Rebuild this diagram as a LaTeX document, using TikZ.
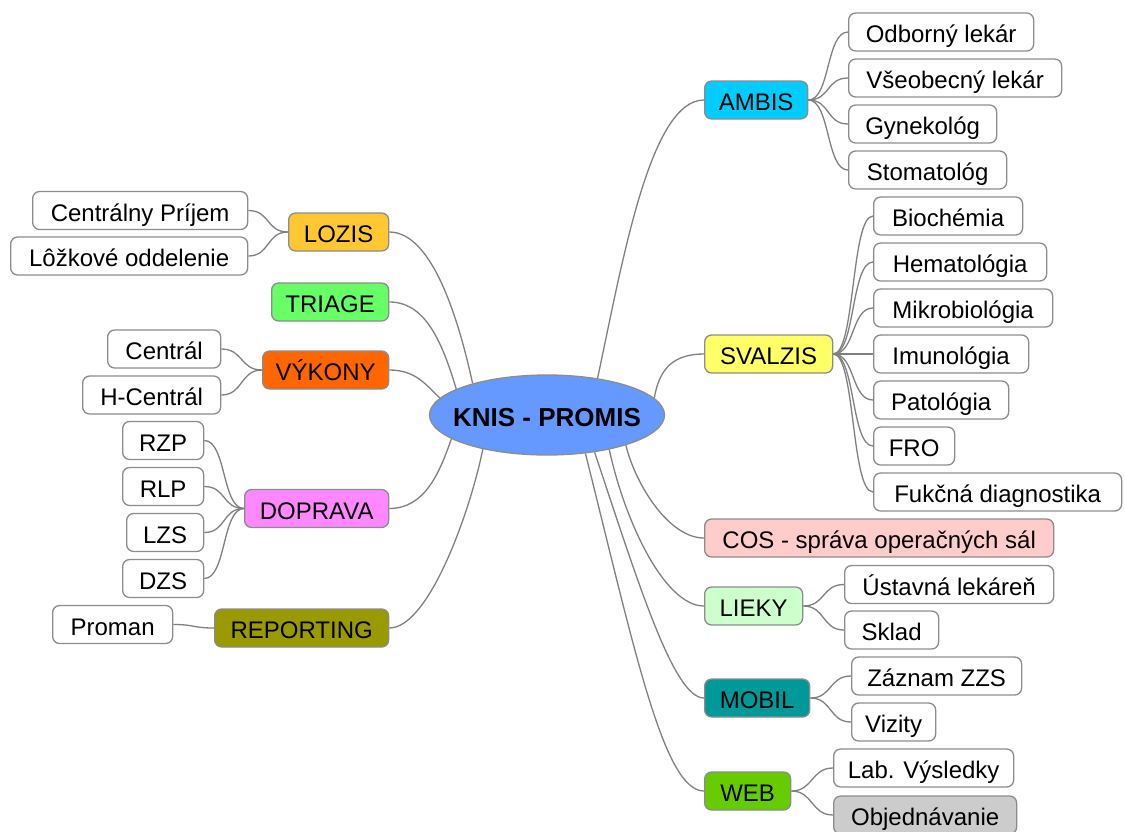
\documentclass[tikz,border=0pt]{standalone}
\usepackage{fontspec}
\setmainfont{Liberation Sans}
\usetikzlibrary{shapes.geometric}
\definecolor{bordc}{HTML}{8C8C8C}
\definecolor{linec}{HTML}{808080}
\definecolor{cRoot}{HTML}{6699FF}
\definecolor{cLozis}{HTML}{FFC833}
\definecolor{cTriage}{HTML}{66FF66}
\definecolor{cVykony}{HTML}{FF6600}
\definecolor{cDoprava}{HTML}{FF88FF}
\definecolor{cReport}{HTML}{999900}
\definecolor{cAmbis}{HTML}{00CCFF}
\definecolor{cSvalzis}{HTML}{FFFF66}
\definecolor{cCos}{HTML}{FFCCCC}
\definecolor{cLieky}{HTML}{CCFFCC}
\definecolor{cMobil}{HTML}{009999}
\definecolor{cWeb}{HTML}{66CC00}
\definecolor{cObj}{HTML}{CCCCCC}
\begin{document}
\begin{tikzpicture}[x=1pt,y=-1pt,
  box/.style={draw=bordc, line width=1.3pt, rounded corners=7pt, minimum height=38pt,
    inner xsep=0pt, inner ysep=0pt, anchor=west, font=\fontsize{24}{28}\selectfont,
    text=black, fill=white, text height=21pt, text depth=0pt},
  rootnode/.style={ellipse, draw=bordc, line width=1.3pt, fill=cRoot, minimum width=235pt,
    minimum height=80pt, inner sep=0pt, font=\bfseries\fontsize{26}{30}\selectfont, text=black,
    text height=23pt, text depth=0pt},
  conn/.style={draw=linec, line width=1.3pt}]
\useasboundingbox (0,0) rectangle (1125,831);

% root
\node[rootnode] (root) at (547,415) {\makebox[0pt]{KNIS - PROMIS}};

% left main
\node[box, minimum width=100pt, fill=cLozis] (lozis) at (288,232) {LOZIS};
\node[box, minimum width=117pt, fill=cTriage] (triage) at (271,302) {TRIAGE};
\node[box, minimum width=126pt, fill=cVykony] (vykony) at (262,370) {VÝKONY};
\node[box, minimum width=144pt, fill=cDoprava] (doprava) at (244,508.5) {DOPRAVA};
\node[box, minimum width=174pt, fill=cReport] (report) at (214,628) {REPORTING};

% left leaves
\node[box, minimum width=215pt] (cprijem) at (32,210.5) {Centrálny Príjem};
\node[box, minimum width=237pt] (lozko) at (10,256) {Lôžkové oddelenie};
\node[box, minimum width=113pt] (central) at (107,349) {Centrál};
\node[box, minimum width=138pt] (hcentral) at (82,395) {H-Centrál};
\node[box, minimum width=81pt] (rzp) at (122,440.5) {RZP};
\node[box, minimum width=81pt] (rlp) at (122,486.5) {RLP};
\node[box, minimum width=77pt] (lzs) at (126,532.5) {LZS};
\node[box, minimum width=81pt] (dzs) at (122,578.5) {DZS};
\node[box, minimum width=120pt] (proman) at (52,624.5) {Proman};

% right main
\node[box, minimum width=103pt, fill=cAmbis] (ambis) at (704,100) {AMBIS};
\node[box, minimum width=128pt, fill=cSvalzis] (svalzis) at (704,354) {SVALZIS};
\node[box, minimum width=349pt, fill=cCos] (cos) at (704,538) {COS - správa operačných sál};
\node[box, minimum width=98pt, fill=cLieky] (lieky) at (704,606) {LIEKY};
\node[box, minimum width=105pt, fill=cMobil] (mobil) at (704,698) {MOBIL};
\node[box, minimum width=86pt, fill=cWeb] (web) at (704,791) {WEB};

% right leaves
\node[box, minimum width=185pt] (odb) at (848,32) {Odborný lekár};
\node[box, minimum width=213pt] (vseob) at (848,78) {Všeobecný lekár};
\node[box, minimum width=148pt] (gyn) at (848,124) {Gynekológ};
\node[box, minimum width=158pt] (stom) at (848,170) {Stomatológ};

\node[box, minimum width=149pt] (bio) at (873,216) {Biochémia};
\node[box, minimum width=173pt] (hem) at (873,262) {Hematológia};
\node[box, minimum width=179pt] (mik) at (873,308) {Mikrobiológia};
\node[box, minimum width=155pt] (imu) at (873,354) {Imunológia};
\node[box, minimum width=135pt] (pat) at (873,400) {Patológia};
\node[box, minimum width=81pt] (fro) at (873,446) {FRO};
\node[box, minimum width=248pt] (fuk) at (873,492) {Fukčná diagnostika};

\node[box, minimum width=209pt] (ust) at (844,584.5) {Ústavná lekáreň};
\node[box, minimum width=94pt] (sklad) at (844,630) {Sklad};

\node[box, minimum width=170pt] (zzs) at (851,676) {Záznam ZZS};
\node[box, minimum width=84pt] (viz) at (851,722) {Vizity};

\node[box, minimum width=180pt] (lab) at (833,768) {Lab. Výsledky};
\node[box, minimum width=183pt, fill=cObj] (obj) at (833,815) {Objednávanie};

% root connectors, left
\draw[conn] (lozis.east) .. controls +(45,0) and +(-12,-55) .. (root.157);
\draw[conn] (triage.east) .. controls +(35,0) and +(-15,-50) .. (root.164);
\draw[conn] (vykony.east) .. controls +(25,0) and +(-15,-15) .. (root.171);
\draw[conn] (doprava.east) .. controls +(35,0) and +(-12,35) .. (root.194);
\draw[conn] (report.east) .. controls +(40,0) and +(-12,60) .. (root.208);

% root connectors, right
\draw[conn] (root.36) .. controls +(25,-117) and +(-54,0) .. (ambis.west);
\draw[conn] (root.9) .. controls +(5,-30) and +(-30,0) .. (svalzis.west);
\draw[conn] (root.339) .. controls +(10,40) and +(-35,0) .. (cos.west);
\draw[conn] (root.331) .. controls +(15,70) and +(-40,0) .. (lieky.west);
\draw[conn] (root.322) .. controls +(45,135) and +(-30,0) .. (mobil.west);
\draw[conn] (root.315) .. controls +(50,200) and +(-40,0) .. (web.west);

% left leaf connectors
\foreach \c/\p in {cprijem/lozis, lozko/lozis, central/vykony, hcentral/vykony,
                   rzp/doprava, rlp/doprava, lzs/doprava, dzs/doprava, proman/report}
  \draw[conn] (\c.east) .. controls +(22,0) and +(-22,0) .. (\p.west);

% right leaf connectors
\foreach \p/\c in {ambis/odb, ambis/vseob, ambis/gyn, ambis/stom,
                   svalzis/bio, svalzis/hem, svalzis/mik, svalzis/imu, svalzis/pat, svalzis/fro, svalzis/fuk,
                   lieky/ust, lieky/sklad, mobil/zzs, mobil/viz, web/lab, web/obj}
  \draw[conn] (\p.east) .. controls +(22,0) and +(-22,0) .. (\c.west);
\end{tikzpicture}
\end{document}
